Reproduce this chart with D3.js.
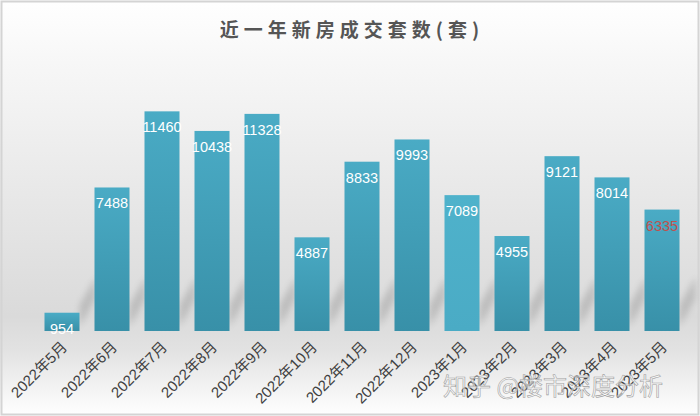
<!DOCTYPE html>
<html><head><meta charset="utf-8">
<script src="https://cdn.jsdelivr.net/npm/d3@7/dist/d3.min.js"></script>
<style>html,body{margin:0;padding:0;background:#fff;}svg{display:block;}</style>
</head><body>
<script>
const categories = ["2022年5月","2022年6月","2022年7月","2022年8月","2022年9月","2022年10月","2022年11月","2022年12月","2023年1月","2023年2月","2023年3月","2023年4月","2023年5月"];
const values = [954, 7488, 11460, 10438, 11328, 4887, 8833, 9993, 7089, 4955, 9121, 8014, 6335];
const title = "近一年新房成交套数(套)";
const watermark = "知乎 @楼市深度分析";

const W = 700, H = 416;
const svg = d3.select("body").append("svg").attr("width", W).attr("height", H);
const defs = svg.append("defs");

const bg = defs.append("linearGradient").attr("id","bg").attr("x1",0).attr("y1",0).attr("x2",0).attr("y2",1);
bg.append("stop").attr("offset","0%").attr("stop-color","#ffffff");
bg.append("stop").attr("offset","15%").attr("stop-color","#f7f7f7");
bg.append("stop").attr("offset","76%").attr("stop-color","#dadada");
bg.append("stop").attr("offset","84%").attr("stop-color","#e2e2e2");
bg.append("stop").attr("offset","100%").attr("stop-color","#ffffff");

const bar = defs.append("linearGradient").attr("id","bar").attr("x1",0).attr("y1",0).attr("x2",0).attr("y2",1);
bar.append("stop").attr("offset","0%").attr("stop-color","#4aabc5");
bar.append("stop").attr("offset","100%").attr("stop-color","#3890a8");
const bar2 = defs.append("linearGradient").attr("id","bar2").attr("x1",0).attr("y1",0).attr("x2",0).attr("y2",1);
bar2.append("stop").attr("offset","0%").attr("stop-color","#4fb2cb");
bar2.append("stop").attr("offset","100%").attr("stop-color","#4aabc5");

const blur = defs.append("filter").attr("id","blur").attr("x","-50%").attr("y","-50%").attr("width","200%").attr("height","200%");
blur.append("feGaussianBlur").attr("stdDeviation",3);

svg.append("rect").attr("x",0).attr("y",0).attr("width",W).attr("height",H).attr("fill","url(#bg)");
svg.append("rect").attr("x",1.5).attr("y",1.5).attr("width",W-3).attr("height",H-3)
  .attr("fill","none").attr("stroke","#d4d4d4").attr("stroke-width",2);

const x = d3.scaleBand().domain(categories).range([37, 687]).paddingInner(0.3).paddingOuter(0.15);
const y = d3.scaleLinear().domain([0, 12000]).range([331, 101]);
const base = y(0);

// shadows
svg.append("g").selectAll("path").data(categories).join("path")
  .attr("d", d => {
    const xr = x(d) + x.bandwidth();
    return `M${xr},${base-4} L${xr},${base-26} L${xr+16},${base-54} L${xr+16},${base-32} Z`;
  })
  .attr("fill","#9a9a9a").attr("opacity",0.45).attr("filter","url(#blur)");

svg.append("g").selectAll("rect").data(categories).join("rect")
  .attr("x", d => x(d)).attr("width", x.bandwidth())
  .attr("y", (d,i) => y(values[i])).attr("height", (d,i) => base - y(values[i]))
  .attr("fill", d => d === "2023年1月" ? "url(#bar2)" : "url(#bar)");

svg.append("g").selectAll("text").data(categories).join("text")
  .attr("x", d => x(d) + x.bandwidth()/2)
  .attr("y", (d,i) => y(values[i]) + 21)
  .attr("text-anchor","middle")
  .attr("font-family","Liberation Sans, Arial, sans-serif")
  .attr("font-size",14.5)
  .attr("fill", (d,i) => i === categories.length-1 ? "#c0504d" : "#ffffff")
  .text((d,i) => values[i]);

// x labels
const xAxis = d3.axisBottom(x).tickSize(0).tickPadding(0);
const gx = svg.append("g").attr("transform",`translate(0,${base})`).call(xAxis);
gx.select(".domain").remove();
gx.selectAll("text")
  .attr("font-family","Liberation Sans, 'Noto Sans CJK SC', sans-serif")
  .attr("font-size",15).attr("fill","#404040")
  .attr("text-anchor","end").attr("dy",0)
  .attr("transform","translate(6,17) rotate(-45)");

svg.append("text").attr("x", W/2+2).attr("y", 37).attr("text-anchor","middle")
  .attr("font-family","'Noto Sans CJK SC', sans-serif").attr("font-weight","bold")
  .attr("font-size",19).attr("letter-spacing","5px").attr("fill","#555555")
  .text(title);

svg.append("text").attr("x", 443).attr("y", 395)
  .attr("font-family","'Noto Sans CJK SC', sans-serif")
  .attr("font-size",24).attr("fill","rgba(255,255,255,0.55)").attr("stroke","#a0a0a0").attr("stroke-width",0.6)
  .text(watermark);
</script>
</body></html>
